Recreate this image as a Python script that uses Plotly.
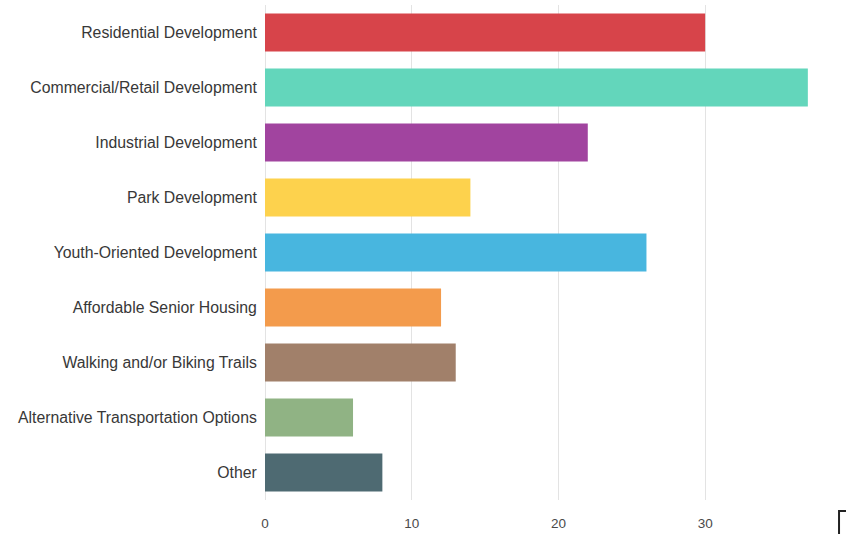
import plotly.graph_objects as go

categories = [
    "Residential Development",
    "Commercial/Retail Development",
    "Industrial Development",
    "Park Development",
    "Youth-Oriented Development",
    "Affordable Senior Housing",
    "Walking and/or Biking Trails",
    "Alternative Transportation Options",
    "Other",
]
values = [30, 37, 22, 14, 26, 12, 13, 6, 8]
colors = ["#d7444a", "#63d6bb", "#a1449f", "#fdd24d", "#48b6df",
          "#f39b4c", "#a1806a", "#90b384", "#4e6a72"]
tick_vals = [0, 10, 20, 30]

fig = go.Figure(go.Bar(
    y=categories, x=values, orientation="h",
    marker=dict(color=colors, line=dict(width=0)),
    width=0.69,
))
fig.update_layout(
    width=846, height=534,
    margin=dict(l=265, r=0, t=5, b=34),
    paper_bgcolor="white", plot_bgcolor="white",
    font=dict(family="Liberation Sans, Arial, sans-serif", color="#333333", size=13),
    showlegend=False,
    xaxis=dict(range=[0, 39.6], tickvals=tick_vals, showgrid=True,
               gridcolor="#e3e3e3", gridwidth=1.2, zeroline=True,
               zerolinecolor="#e3e3e3", zerolinewidth=1.2,
               tickfont=dict(size=13.5, color="#4a4a4a"),
               ticks="outside", ticklen=11, tickcolor="rgba(0,0,0,0)"),
    yaxis=dict(autorange="reversed", ticks="outside", ticklen=4,
               tickcolor="rgba(0,0,0,0)",
               tickfont=dict(size=15.8, color="#383838"), showgrid=False),
    shapes=[dict(type="rect", xref="paper", yref="paper",
                 x0=0.988, x1=1.02, y0=-0.022, y1=-0.1,
                 line=dict(color="#222222", width=2))],
)
fig.write_html("out.html")
